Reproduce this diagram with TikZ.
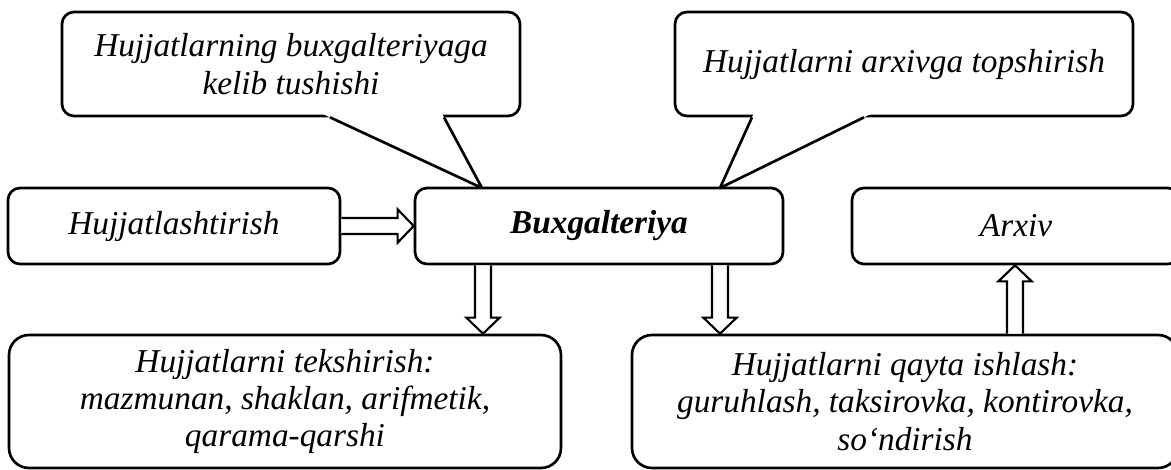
\documentclass[tikz,border=0pt]{standalone}
\usepackage{fontspec}
\setmainfont{Liberation Serif}
\usetikzlibrary{calc}
\newcommand\blkarrow[2]{%
  \coordinate (bah) at ($(#2)!12pt!(#1)$);
  \draw[blk] ($(#1)!6pt!90:(#2)$) -- ($(bah)!6pt!90:(#2)$) -- ($(bah)!12.5pt!90:(#2)$) -- (#2)
    -- ($(bah)!12.5pt!-90:(#2)$) -- ($(bah)!6pt!-90:(#2)$) -- ($(#1)!6pt!-90:(#2)$);
}
\begin{document}
\begin{tikzpicture}[x=0.75pt,y=-0.75pt,
  txt/.style={font=\fontsize{25}{28}\selectfont\itshape},
  box/.style={draw, line width=2pt, rounded corners=9pt, fill=white, align=center, inner sep=0pt, txt},
  bigbox/.style={box, rounded corners=15pt},
  wh/.style 2 args={minimum width=#1*0.75pt, minimum height=#2*0.75pt},
  tail/.style={line width=2pt, line join=miter},
  blk/.style={draw, fill=white, line width=1.6pt, line join=miter}]
\useasboundingbox (0,0) rectangle (1171,470);
% callouts
\node[box, wh={458}{104}] (c1) at (291,64) {Hujjatlarning buxgalteriyaga\\kelib tushishi};
\node[box, wh={458}{104}] (c2) at (904,64) {Hujjatlarni arxivga topshirish};
\coordinate (tip1) at (482,188);
\coordinate (tip2) at (720,188);
\coordinate (t1a) at (c1.south -| 330,0);
\coordinate (t1b) at (c1.south -| 444,0);
\coordinate (t2a) at (c2.south -| 752,0);
\coordinate (t2b) at (c2.south -| 864,0);
\fill[white] ($(tip1)!1.05!(t1a)$) -- ($(tip1)!1.05!(t1b)$) -- (tip1) -- cycle;
\draw[tail] (t1a) -- (tip1) -- (t1b);
\fill[white] ($(tip2)!1.05!(t2a)$) -- ($(tip2)!1.05!(t2b)$) -- (tip2) -- cycle;
\draw[tail] (t2a) -- (tip2) -- (t2b);
% middle row
\node[box, wh={332}{76}] (hd) at (174,226) {Hujjatlashtirish};
\node[box, wh={368}{76}, font=\fontsize{25}{28}\selectfont\bfseries\itshape] (bux) at (599,226) {Buxgalteriya};
\node[box, wh={328}{76}] (arx) at (1016,226) {Arxiv};
% bottom row
\node[bigbox, wh={552}{133}] (chk) at (285,401.5) {Hujjatlarni tekshirish:\\mazmunan, shaklan, arifmetik,\\qarama-qarshi};
\node[bigbox, wh={546}{133}] (proc) at (905,401.5) {Hujjatlarni qayta ishlash:\\guruhlash, taksirovka, kontirovka,\\so‘ndirish};
% block arrows
\blkarrow{hd.east}{bux.west}
\coordinate (d1) at (bux.south -| 483,0);
\coordinate (d2) at (bux.south -| 720,0);
\coordinate (u1) at (proc.north -| 1015,0);
\blkarrow{d1}{d1 |- chk.north}
\blkarrow{d2}{d2 |- proc.north}
\blkarrow{u1}{u1 |- arx.south}
\end{tikzpicture}
\end{document}
